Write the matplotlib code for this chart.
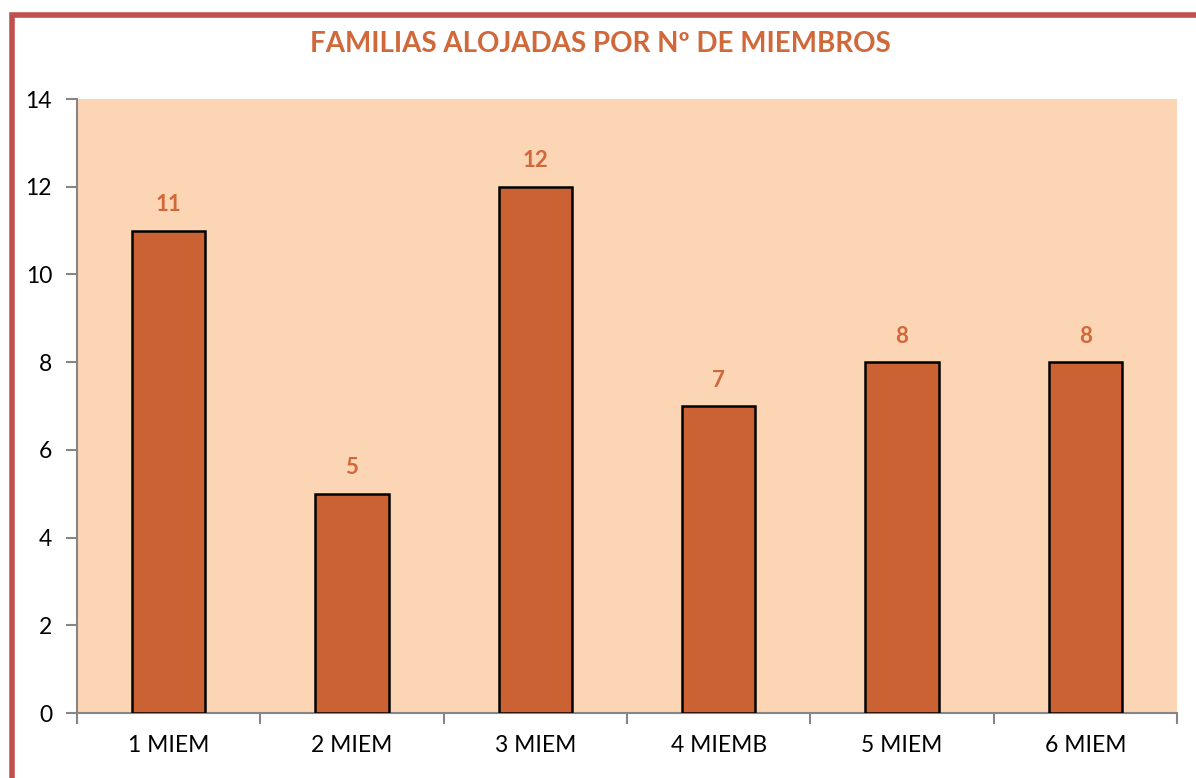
import matplotlib.pyplot as plt
from matplotlib.patches import Rectangle

categorias = ["1 MIEM", "2 MIEM", "3 MIEM", "4 MIEMB", "5 MIEM", "6 MIEM"]
familias = [11, 5, 12, 7, 8, 8]
ticks_y = [0, 2, 4, 6, 8, 10, 12, 14]

naranja = "#CB6234"
fondo = "#FCD5B5"
titulo_color = "#D0683A"
borde = "#C0504D"

plt.rcParams['font.family'] = ['Lato', 'DejaVu Sans']

fig = plt.figure(figsize=(11.96, 7.78), dpi=100)
ax = fig.add_axes([77/1196, 1 - 713/778, 1100/1196, 614/778])

x = range(len(categorias))
ax.bar(x, familias, width=0.4, color=naranja, edgecolor="black", linewidth=1.8, zorder=3)
for i, v in enumerate(familias):
    ax.text(i, v + 0.35, str(v), ha="center", va="bottom", fontsize=16,
            fontweight="bold", color=titulo_color)

ax.set_facecolor(fondo)
ax.set_xlim(-0.5, len(categorias) - 0.5)
ax.set_ylim(0, 14)
ax.set_yticks(ticks_y)
ax.set_xticks(x)
ax.set_xticklabels(categorias, fontsize=16.5)
ax.set_xticks([i - 0.5 for i in range(len(categorias) + 1)], minor=True)
ax.tick_params(axis="x", which="major", length=0, pad=16)
ax.tick_params(axis="x", which="minor", length=8, color="#868686", width=1.5)
ax.tick_params(axis="y", length=8, color="#868686", width=1.5, labelsize=16.5, pad=10)
for s in ["top", "right"]:
    ax.spines[s].set_visible(False)
for s in ["left", "bottom"]:
    ax.spines[s].set_color("#868686")
    ax.spines[s].set_linewidth(1.5)

fig.text(600/1196, 1 - 44/778, "FAMILIAS ALOJADAS POR Nº DE MIEMBROS", ha="center",
         va="center", fontsize=20, fontweight="bold", color=titulo_color)

# marco del gráfico
fig.patches.append(Rectangle((11.5/1196, -0.1), 1.2, 1 - 14.5/778 + 0.1,
                             transform=fig.transFigure, fill=False,
                             edgecolor=borde, linewidth=4))

fig.savefig("out.png", dpi=100)
